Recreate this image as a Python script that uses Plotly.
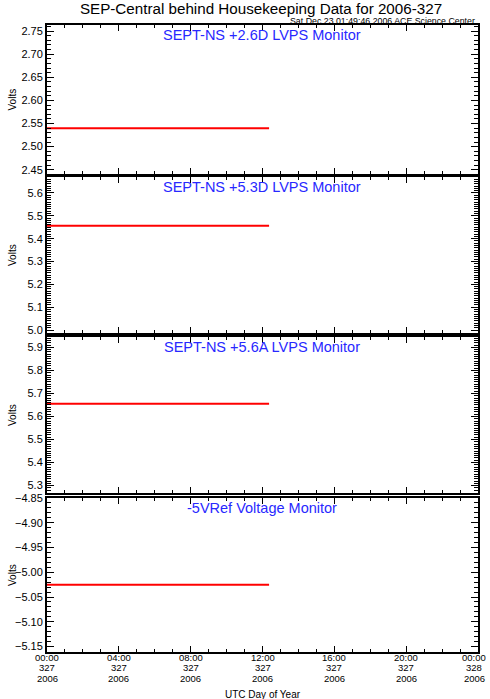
import plotly.graph_objects as go

# ---- data ----
times = ["2006-11-23 00:00", "2006-11-23 12:22"]
panel_titles = ["SEPT-NS +2.6D LVPS Monitor", "SEPT-NS +5.3D LVPS Monitor",
                "SEPT-NS +5.6A LVPS Monitor", "-5VRef Voltage Monitor"]
v26 = [2.54, 2.54]
v53 = [5.457, 5.457]
v56 = [5.655, 5.655]
vref = [-5.025, -5.025]
series = [v26, v53, v56, vref]
y_ranges = [[2.4408, 2.763], [4.987, 5.67], [5.268, 5.945], [-5.161, -4.85]]
y_dtick = [0.05, 0.1, 0.1, 0.05]
y_fmt = [".2f", ".1f", ".1f", ".2f"]
x_tickvals = ["2006-11-23 00:00", "2006-11-23 04:00", "2006-11-23 08:00", "2006-11-23 12:00",
              "2006-11-23 16:00", "2006-11-23 20:00", "2006-11-24 00:00"]
x_time_labels = ["00:00", "04:00", "08:00", "12:00", "16:00", "20:00", "00:00"]
x_doy_labels = ["327", "327", "327", "327", "327", "327", "328"]
x_year_labels = ["2006", "2006", "2006", "2006", "2006", "2006", "2006"]

# ---- layout geometry ----
W, H = 490, 699
ml, mr, mt, mb = 47, 12, 25, 47
ph = H - mt - mb
pix = [(25, 174), (177, 333), (337, 493), (498, 652)]
domains = [[(652 - b) / ph, (652 - t) / ph] for t, b in pix]
XR = ["2006-11-23 00:00", "2006-11-24 00:00"]

FONT = "Liberation Sans, Arial, sans-serif"
BLACK = "black"

fig = go.Figure()
for i in range(4):
    n = "" if i == 0 else str(i + 1)
    fig.add_trace(go.Scatter(x=times, y=series[i], mode="lines",
                             line=dict(color="#ff0000", width=2),
                             xaxis="x" + n, yaxis="y" + n, showlegend=False,
                             hoverinfo="skip"))
    xa = dict(type="date", range=XR, domain=[0, 1], anchor="y" + n, automargin=False,
              tickmode="array", tickvals=x_tickvals, showticklabels=False,
              ticks="inside", ticklen=6, tickwidth=1,
              tickcolor=BLACK, showgrid=False, zeroline=False,
              showline=True, linecolor=BLACK, linewidth=2, mirror="allticks",
              minor=dict(tickmode="linear", tick0="2006-11-23 00:00", dtick=3600000,
                         ticks="inside", ticklen=3, tickwidth=1, tickcolor=BLACK, showgrid=False))
    ya = dict(range=y_ranges[i], domain=domains[i], anchor="x" + n, automargin=False,
              tickmode="linear", dtick=y_dtick[i], tick0=0, tickformat=y_fmt[i],
              ticks="inside", ticklen=7, tickwidth=1, tickcolor=BLACK,
              showgrid=False, zeroline=False,
              showline=True, linecolor=BLACK, linewidth=2, mirror="allticks",
              minor=dict(tickmode="linear", tick0=0, dtick=0.01, ticks="inside", ticklen=4,
                         tickwidth=1, tickcolor=BLACK, showgrid=False),
              tickfont=dict(family=FONT, size=11, color=BLACK))
    fig.layout["xaxis" + n] = xa
    fig.layout["yaxis" + n] = ya
    fig.add_annotation(text=panel_titles[i], xref="x" + n + " domain", yref="y" + n + " domain",
                       x=0.5, y=1, xshift=-1, yshift=0, xanchor="center", yanchor="top",
                       showarrow=False, font=dict(family=FONT, size=14.5, color="#2828ff"))
    fig.add_annotation(text="Volts", xref="paper", yref="y" + n + " domain",
                       x=0, xshift=-35, y=0.5, xanchor="center", yanchor="middle",
                       textangle=-90, showarrow=False,
                       font=dict(family=FONT, size=10, color=BLACK))

# three-row time labels under the bottom panel, placed on the x4 date scale
rows = [(x_time_labels, -5), (x_doy_labels, -15.5), (x_year_labels, -26)]
last = len(x_tickvals) - 1
for labels, dy in rows:
    for j, (tv, lab) in enumerate(zip(x_tickvals, labels)):
        fig.add_annotation(text=lab, xref="x4", yref="y4 domain", x=tv, y=0, yshift=dy,
                           xshift=(-4 if j == last else 0),
                           xanchor="center", yanchor="middle", showarrow=False,
                           font=dict(family=FONT, size=9.5, color=BLACK))

fig.add_annotation(text="UTC Day of Year", xref="paper", yref="paper",
                   x=0.5, y=0, yshift=-42, xanchor="center", yanchor="middle", showarrow=False,
                   font=dict(family=FONT, size=10, color=BLACK))
fig.add_annotation(text="Sat Dec 23 01:49:46 2006 ACE Science Center", xref="paper", yref="paper",
                   x=1, xshift=-1, y=1, yshift=-3, xanchor="right", yanchor="bottom", showarrow=False,
                   font=dict(family=FONT, size=8.8, color=BLACK))

fig.update_layout(
    width=W, height=H,
    margin=dict(l=ml, r=mr, t=mt, b=mb, autoexpand=False),
    paper_bgcolor="white", plot_bgcolor="white",
    hovermode=False,
    title=dict(text="SEP-Central behind Housekeeping Data for 2006-327", x=261 / W,
               xanchor="center", yref="container", y=1 - 8.5 / H, yanchor="middle",
               pad=dict(t=0, b=0, l=0, r=0),
               font=dict(family=FONT, size=15.2, color=BLACK)),
)
fig.write_html("out.html", config={"displayModeBar": False},
               post_script="document.body.style.margin='0px';")
